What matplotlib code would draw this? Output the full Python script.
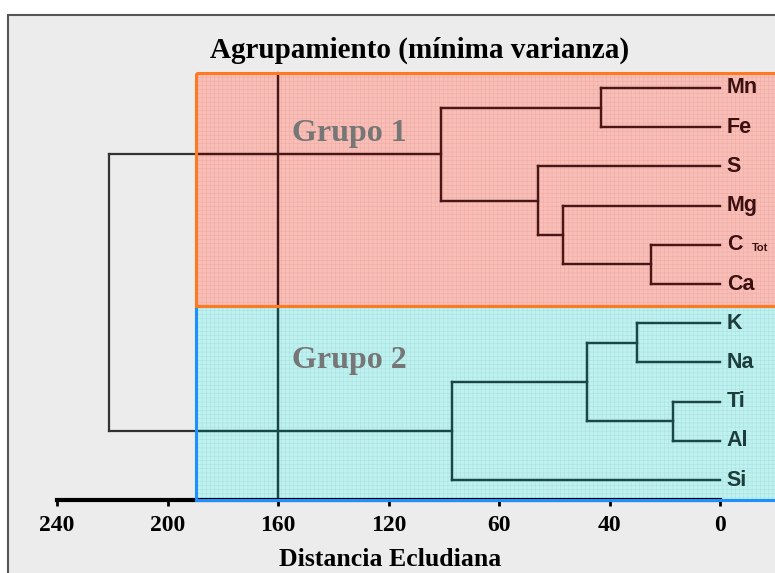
#!/usr/bin/env python

import matplotlib.pyplot as plt
from matplotlib.patches import Rectangle

plt.rcParams["hatch.linewidth"] = 0.4

# leaves from top to bottom
leaves = ["Mn", "Fe", "S", "Mg", "C", "Ca", "K", "Na", "Ti", "Al", "Si"]
# merges: (child a, child b, distance); new nodes numbered from len(leaves)
merge_a = [0, 4, 3, 2, 11, 6, 8, 16, 18, 15]
merge_b = [1, 5, 12, 13, 14, 7, 9, 17, 10, 19]
merge_d = [43, 25, 57, 66, 101, 30, 17, 48, 97, 221]

tick_pos = [240, 200, 160, 120, 80, 40, 0]
tick_lab = ["240", "200", "160", "120", "60", "40", "0"]
cut_height = 160

W, H = 775, 573
fig = plt.figure(figsize=(W / 100, H / 100), dpi=100)
fig.patch.set_facecolor("white")
fig.add_artist(Rectangle((8 / W, -0.01), 1.0, 1 - 15 / H + 0.01, transform=fig.transFigure,
                         facecolor="#ececec", edgecolor="#555555", linewidth=1.5, zorder=-10))

ax = fig.add_axes([57 / W, 73 / H, 718 / W, 485 / H])
ax.patch.set_alpha(0)
ax.set_xlim(240, 240 - 718 / 2.7625)
ax.set_ylim(10.51, -1.862)

# group boxes
x_box = 189.7
red_box = Rectangle((x_box, -0.383), -300, 5.943, facecolor="#f7bfb8", edgecolor="none", zorder=0)
cyan_box = Rectangle((x_box, 5.56), -300, 4.95, facecolor="#bff1ef", edgecolor="none", zorder=0)
ax.add_patch(red_box)
ax.add_patch(cyan_box)
ax.add_patch(Rectangle((x_box, -0.383), -300, 5.943, facecolor="none", edgecolor="#f2aca4",
                       linewidth=0, hatch="++++", zorder=0.5))
ax.add_patch(Rectangle((x_box, 5.56), -300, 4.95, facecolor="none", edgecolor="#a9e2e4",
                       linewidth=0, hatch="++++", zorder=0.5))

# dendrogram segments
pos = {i: float(i) for i in range(len(leaves))}
hgt = {i: 0.0 for i in range(len(leaves))}
segs = []
for k, (a, b, d) in enumerate(zip(merge_a, merge_b, merge_d)):
    segs.append(([hgt[a], d], [pos[a], pos[a]]))
    segs.append(([hgt[b], d], [pos[b], pos[b]]))
    segs.append(([d, d], [pos[a], pos[b]]))
    n = len(leaves) + k
    pos[n] = (pos[a] + pos[b]) / 2
    hgt[n] = d
segs.append(([cut_height, cut_height], [-0.383, 10.51]))

for color, clip in [("#333333", None), ("#4d1414", red_box), ("#174848", cyan_box)]:
    for xs, ys in segs:
        line, = ax.plot(xs, ys, color=color, linewidth=1.6, solid_capstyle="projecting", zorder=2)
        if clip is not None:
            line.set_clip_path(clip)

# box borders
ax.add_patch(Rectangle((x_box, -0.383), -300, 5.943, facecolor="none", edgecolor="#ff7a1e",
                       linewidth=2.2, zorder=3, clip_on=False))
ax.add_patch(Rectangle((x_box, 5.56), -300, 4.95, facecolor="none", edgecolor="#1e8fff",
                       linewidth=2.2, zorder=3, clip_on=False))
ax.plot([x_box, -30], [5.56, 5.56], color="#ff7a1e", linewidth=2.2, zorder=3.5, clip_on=False)

# leaf labels
for i, name in enumerate(leaves):
    c = "#3c1010" if i < 6 else "#1d3d3d"
    ax.text(-2.5, i, name, ha="left", va="center", fontsize=15.5, fontweight="bold",
            family="Liberation Sans", color=c, zorder=4)
ax.text(-11.5, 4.08, "Tot", ha="left", va="center", fontsize=8, fontweight="bold",
        family="Liberation Sans", color="#3c1010", zorder=4)

ax.text(155, 1.15, "Grupo 1", fontsize=23, fontweight="bold", family="Liberation Serif",
        color="#767676", va="center", zorder=4)
ax.text(155, 6.95, "Grupo 2", fontsize=23, fontweight="bold", family="Liberation Serif",
        color="#767676", va="center", zorder=4)

# axis
for s in ["left", "right", "top"]:
    ax.spines[s].set_visible(False)
ax.spines["bottom"].set_bounds(240, 0)
ax.spines["bottom"].set_linewidth(3)
ax.spines["bottom"].set_zorder(2.5)
ax.set_yticks([])
ax.set_xticks(tick_pos)
ax.set_xticklabels(tick_lab, fontsize=17, fontweight="bold", family="Liberation Serif")
ax.tick_params(axis="x", length=4, width=2, pad=7)

fig.text(420 / W, 1 - 50 / H, "Agrupamiento (mínima varianza)", ha="center", va="center",
         fontsize=21, fontweight="bold", family="Liberation Serif")
fig.text(390 / W, 1 - 559 / H, "Distancia Ecludiana", ha="center", va="center",
         fontsize=18.5, fontweight="bold", family="Liberation Serif")

fig.savefig("out.png", dpi=100)
